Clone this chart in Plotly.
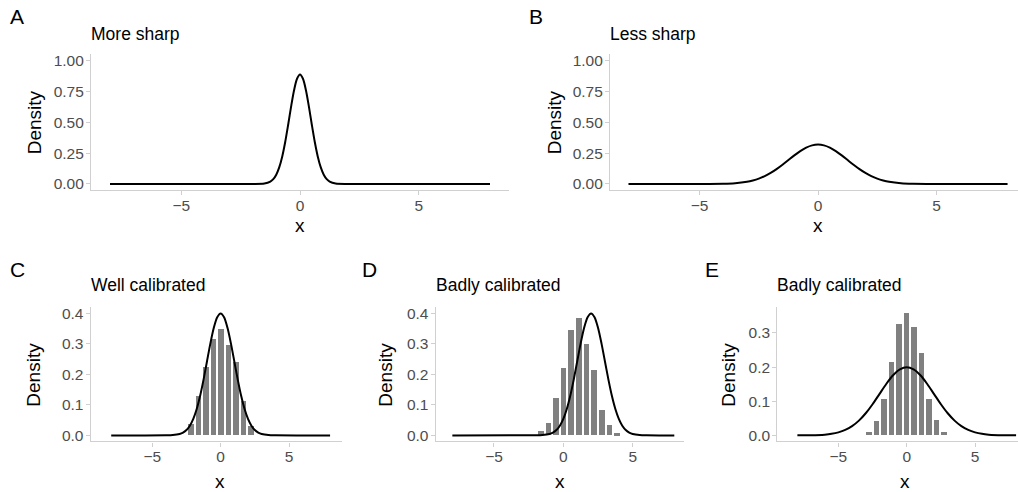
import plotly.graph_objects as go

W, H = 1018, 492
FONT = "Liberation Sans, Arial, Helvetica, sans-serif"

# ---------------- data ----------------
curve_x_A = [-8, -3, -2, -1.5, -1.25, -1.125, -1.0, -0.875, -0.75, -0.625, -0.5, -0.375, -0.25, -0.125, 0,
             0.125, 0.25, 0.375, 0.5, 0.625, 0.75, 0.875, 1.0, 1.125, 1.25, 1.5, 2, 3, 8]
curve_y_A = [0, 0, 0.0001, 0.0034, 0.019, 0.039, 0.075, 0.134, 0.221, 0.338, 0.478, 0.627, 0.760, 0.853, 0.887,
             0.853, 0.760, 0.627, 0.478, 0.338, 0.221, 0.134, 0.075, 0.039, 0.019, 0.0034, 0.0001, 0, 0]

curve_x_B = [-8, -5, -4, -3.5, -3, -2.75, -2.5, -2.25, -2, -1.75, -1.5, -1.25, -1, -0.75, -0.5, -0.25, 0,
             0.25, 0.5, 0.75, 1, 1.25, 1.5, 1.75, 2, 2.25, 2.5, 2.75, 3, 3.5, 4, 5, 8]
curve_y_B = [0, 0.0001, 0.0019, 0.0063, 0.0179, 0.0284, 0.0432, 0.0632, 0.0887, 0.1197, 0.1553, 0.1935, 0.2317,
             0.2665, 0.2945, 0.3128, 0.3191, 0.3128, 0.2945, 0.2665, 0.2317, 0.1935, 0.1553, 0.1197, 0.0887,
             0.0632, 0.0432, 0.0284, 0.0179, 0.0063, 0.0019, 0.0001, 0]

curve_x_C = [-8, -4, -3.5, -3, -2.75, -2.5, -2.25, -2, -1.75, -1.5, -1.25, -1, -0.75, -0.5, -0.25, 0,
             0.25, 0.5, 0.75, 1, 1.25, 1.5, 1.75, 2, 2.25, 2.5, 2.75, 3, 3.5, 4, 8]
curve_y_C = [0, 0.0001, 0.0009, 0.0044, 0.0091, 0.0175, 0.0317, 0.054, 0.0863, 0.1295, 0.1826, 0.242, 0.3011,
             0.3521, 0.3867, 0.3989, 0.3867, 0.3521, 0.3011, 0.242, 0.1826, 0.1295, 0.0863, 0.054, 0.0317,
             0.0175, 0.0091, 0.0044, 0.0009, 0.0001, 0]

curve_x_D = [-8, -2, -1.5, -1, -0.75, -0.5, -0.25, 0, 0.25, 0.5, 0.75, 1, 1.25, 1.5, 1.75, 2,
             2.25, 2.5, 2.75, 3, 3.25, 3.5, 3.75, 4, 4.25, 4.5, 4.75, 5, 5.5, 6, 8]
curve_y_D = [0, 0.0001, 0.0009, 0.0044, 0.0091, 0.0175, 0.0317, 0.054, 0.0863, 0.1295, 0.1826, 0.242, 0.3011,
             0.3521, 0.3867, 0.3989, 0.3867, 0.3521, 0.3011, 0.242, 0.1826, 0.1295, 0.0863, 0.054, 0.0317,
             0.0175, 0.0091, 0.0044, 0.0009, 0.0001, 0]

curve_x_E = [-8, -7, -6, -5.5, -5, -4.5, -4, -3.5, -3, -2.5, -2, -1.5, -1, -0.5, 0,
             0.5, 1, 1.5, 2, 2.5, 3, 3.5, 4, 4.5, 5, 5.5, 6, 7, 8]
curve_y_E = [0.0001, 0.0004, 0.0022, 0.0045, 0.0088, 0.0159, 0.027, 0.0432, 0.0648, 0.0913, 0.121, 0.1506,
             0.176, 0.1933, 0.1995, 0.1933, 0.176, 0.1506, 0.121, 0.0913, 0.0648, 0.0432, 0.027, 0.0159,
             0.0088, 0.0045, 0.0022, 0.0004, 0.0001]

hist_x_C = [-2.2, -1.65, -1.1, -0.55, 0, 0.55, 1.1, 1.65, 2.2]
hist_y_C = [0.036, 0.128, 0.222, 0.314, 0.347, 0.295, 0.24, 0.112, 0.028]

hist_x_D = [-1.65, -1.1, -0.55, 0, 0.55, 1.1, 1.65, 2.2, 2.75, 3.3, 3.85]
hist_y_D = [0.013, 0.04, 0.122, 0.218, 0.345, 0.384, 0.298, 0.213, 0.083, 0.033, 0.006]

hist_x_E = [-2.75, -2.2, -1.65, -1.1, -0.55, 0, 0.55, 1.1, 1.65, 2.2, 2.75]
hist_y_E = [0.009, 0.04, 0.105, 0.213, 0.325, 0.356, 0.315, 0.24, 0.105, 0.043, 0.008]

x_tick_vals = [-5, 0, 5]
x_tick_text = ["\u22125", "0", "5"]
y_ticks_top = [0, 0.25, 0.5, 0.75, 1.0]
y_ticks_top_text = ["0.00", "0.25", "0.50", "0.75", "1.00"]
y_ticks_cd = [0, 0.1, 0.2, 0.3, 0.4]
y_ticks_cd_text = ["0.0", "0.1", "0.2", "0.3", "0.4"]
y_ticks_e = [0, 0.1, 0.2, 0.3]
y_ticks_e_text = ["0.0", "0.1", "0.2", "0.3"]

panel_letters = ["A", "B", "C", "D", "E"]
panel_titles = ["More sharp", "Less sharp", "Well calibrated", "Badly calibrated", "Badly calibrated"]

# ---------------- layout helpers ----------------
def fx(p):
    return p / W


def fy(p):
    return 1 - p / H


AXC = "#d0d0d0"
TICKC = "#4d4d4d"

panels = [
    dict(xd=(91, 509), yd=(52, 189), xr=(-8.8, 8.8), yr=(-0.05, 1.05), yt=(y_ticks_top, y_ticks_top_text)),
    dict(xd=(610, 1018), yd=(52, 189), xr=(-8.78, 8.44), yr=(-0.05, 1.05), yt=(y_ticks_top, y_ticks_top_text)),
    dict(xd=(90.7, 341.7), yd=(307.5, 443), xr=(-9.5, 8.85), yr=(-0.02, 0.419), yt=(y_ticks_cd, y_ticks_cd_text)),
    dict(xd=(435.7, 684.3), yd=(307.5, 443), xr=(-9.2, 8.72), yr=(-0.02, 0.419), yt=(y_ticks_cd, y_ticks_cd_text)),
    dict(xd=(777.3, 1018), yd=(307.5, 443), xr=(-9.47, 8.14), yr=(-0.0179, 0.375), yt=(y_ticks_e, y_ticks_e_text)),
]

fig = go.Figure()

hists = [None, None, (hist_x_C, hist_y_C), (hist_x_D, hist_y_D), (hist_x_E, hist_y_E)]
curves = [(curve_x_A, curve_y_A), (curve_x_B, curve_y_B), (curve_x_C, curve_y_C),
          (curve_x_D, curve_y_D), (curve_x_E, curve_y_E)]

for i, p in enumerate(panels):
    n = "" if i == 0 else str(i + 1)
    xa, ya = "x" + n, "y" + n
    if hists[i] is not None:
        fig.add_trace(go.Bar(x=hists[i][0], y=hists[i][1], width=0.4, marker=dict(color="#808080", line=dict(width=0)),
                             xaxis=xa, yaxis=ya, showlegend=False, hoverinfo="skip"))
    fig.add_trace(go.Scatter(x=curves[i][0], y=curves[i][1], mode="lines",
                             line=dict(color="black", width=2, shape="spline", smoothing=0.8),
                             xaxis=xa, yaxis=ya, showlegend=False, hoverinfo="skip"))
    common = dict(showline=True, linecolor=AXC, linewidth=1.2, ticks="outside", ticklen=4, tickwidth=1.1,
                  tickcolor=AXC, showgrid=False, zeroline=False, tickfont=dict(family=FONT, size=15.5, color=TICKC),
                  fixedrange=True)
    fig.layout["xaxis" + n] = dict(domain=[fx(p["xd"][0]), fx(p["xd"][1])], range=list(p["xr"]),
                                   anchor=ya, tickvals=x_tick_vals, ticktext=x_tick_text,
                                   ticklabelstandoff=-3, **common)
    fig.layout["yaxis" + n] = dict(domain=[fy(p["yd"][1]), fy(p["yd"][0])], range=list(p["yr"]),
                                   anchor=xa, tickvals=p["yt"][0], ticktext=p["yt"][1],
                                   ticklabelstandoff=-1, **common)

ann = []
letter_pos = [(7.5, 13.5), (527, 13.5), (7.5, 269), (360, 269), (703, 269)]
for t, (x, y) in zip(panel_letters, letter_pos):
    ann.append(dict(text=t, x=fx(x), y=fy(y), xanchor="left", yanchor="middle", font=dict(size=21, color="black", family=FONT)))
title_pos = [(89, 31), (607.5, 31), (89, 285), (433.5, 285), (775, 285)]
for t, (x, y) in zip(panel_titles, title_pos):
    ann.append(dict(text=t, x=fx(x), y=fy(y), xanchor="left", yanchor="middle", font=dict(size=17.5, color="black", family=FONT)))
dens_pos = [(34, 120.5), (554, 120.5), (34, 375.5), (386, 375.5), (729, 375.5)]
for (x, y) in dens_pos:
    ann.append(dict(text="Density", x=fx(x), y=fy(y), xanchor="center", yanchor="middle", textangle=-90,
                    font=dict(size=19, color="black", family=FONT)))
xt_pos = [(300, 225), (818, 225), (219.5, 483), (560, 483), (905, 483)]
for (x, y) in xt_pos:
    ann.append(dict(text="x", x=fx(x), y=fy(y), xanchor="center", yanchor="middle",
                    font=dict(size=19, color="black", family=FONT)))
for a in ann:
    a.update(xref="paper", yref="paper", showarrow=False)

fig.update_layout(width=W, height=H, margin=dict(l=0, r=0, t=0, b=0), paper_bgcolor="white",
                  plot_bgcolor="white", annotations=ann, bargap=0, showlegend=False,
                  font=dict(family=FONT))

fig.write_html("out.html")
